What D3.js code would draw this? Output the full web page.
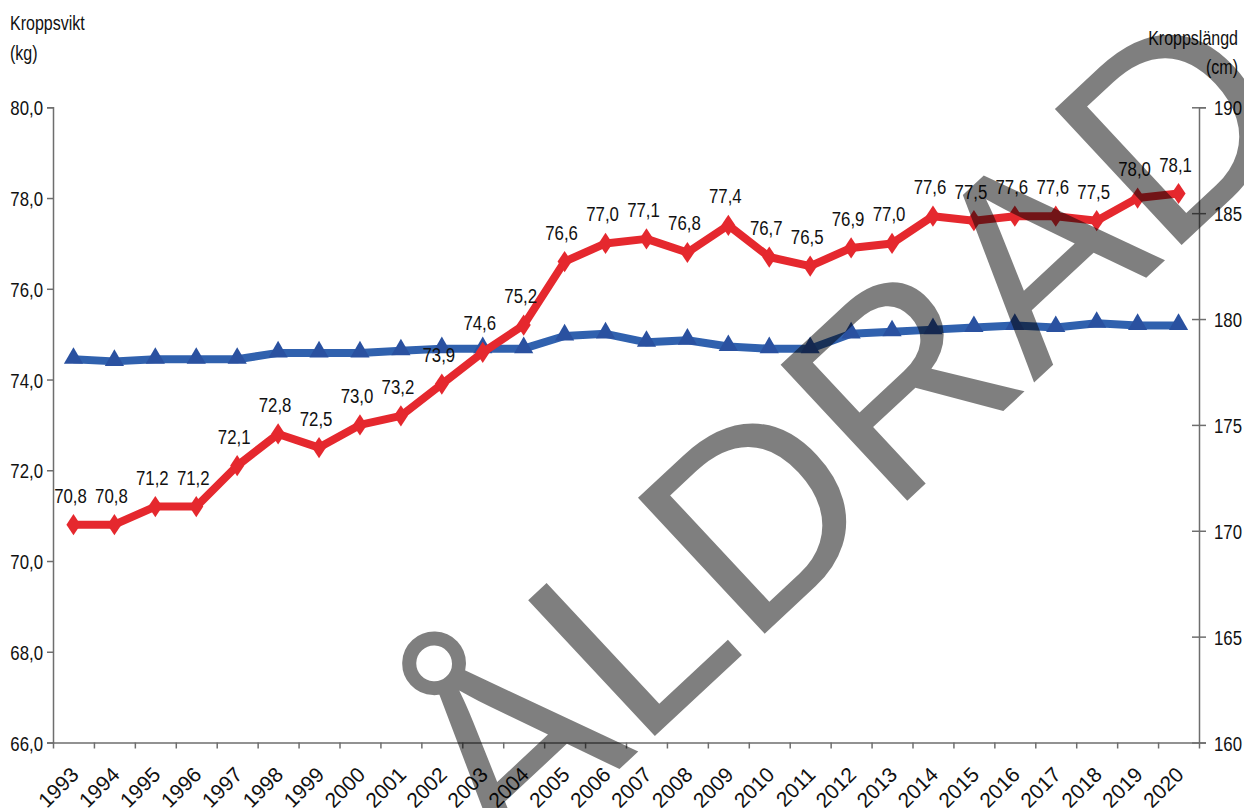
<!DOCTYPE html>
<html>
<head>
<meta charset="utf-8">
<script src="https://cdn.jsdelivr.net/npm/d3@7"></script>
<style>
  html, body { margin: 0; padding: 0; background: #fff; }
  svg { display: block; }
</style>
</head>
<body>
<svg id="chart" width="1244" height="808"></svg>
<script>
// ---- data ----
const years = ["1993","1994","1995","1996","1997","1998","1999","2000","2001","2002","2003","2004","2005","2006","2007","2008","2009","2010","2011","2012","2013","2014","2015","2016","2017","2018","2019","2020"];
const weightKg = [70.8,70.8,71.2,71.2,72.1,72.8,72.5,73.0,73.2,73.9,74.6,75.2,76.6,77.0,77.1,76.8,77.4,76.7,76.5,76.9,77.0,77.6,77.5,77.6,77.6,77.5,78.0,78.1];
const heightCm = [178.1,178.0,178.1,178.1,178.1,178.4,178.4,178.4,178.5,178.6,178.6,178.6,179.2,179.3,178.9,179.0,178.7,178.6,178.6,179.3,179.4,179.5,179.6,179.7,179.6,179.8,179.7,179.7];
const leftTicks = [66,68,70,72,74,76,78,80];
const rightTicks = [160,165,170,175,180,185,190];
const leftTitle = ["Kroppsvikt", "(kg)"];
const rightTitle = ["Kroppslängd", "(cm)"];
const watermark = "ÅLDRAD";

// ---- layout ----
const svg = d3.select("#chart");
const X0 = 53, X1 = 1199, YT = 107.3, YB = 742.5;
const axisColor = "#6e6e6e";
const red = "#e5282e", blue = "#3061ae", blueMark = "#2a51a0";
const FONT = "Liberation Sans, Arial, sans-serif";
const SQ = 0.8; // horizontal squeeze to mimic a condensed face

const x = d3.scaleBand().domain(years).range([X0, X1]).padding(0);
const yL = d3.scaleLinear().domain([66, 80]).range([YB, YT]);
const yR = d3.scaleLinear().domain([160, 190]).range([YB, YT]);
const fmt = v => d3.format(".1f")(v).replace(".", ",");
const cx = (d, i) => x(years[i]) + x.bandwidth() / 2;

// left axis
const gL = svg.append("g").attr("transform", `translate(${X0},0)`)
  .call(d3.axisLeft(yL).tickValues(leftTicks).tickFormat(fmt).tickSize(6));
gL.select(".domain").attr("stroke", axisColor).attr("stroke-width", 1.5);
gL.selectAll(".tick line").attr("stroke", axisColor).attr("stroke-width", 1.5);
gL.selectAll(".tick text").attr("x", null).attr("dy", null)
  .attr("transform", "translate(-10,7.5) scale(" + SQ + ",1)")
  .attr("font-family", FONT).attr("font-size", 21).attr("fill", "#111").attr("text-anchor", "end");

// right axis
const gR = svg.append("g").attr("transform", `translate(${X1},0)`)
  .call(d3.axisRight(yR).tickValues(rightTicks).tickFormat(d3.format("d")).tickSize(7));
gR.select(".domain").attr("stroke", axisColor).attr("stroke-width", 1.5);
gR.selectAll(".tick line").attr("x1", -7).attr("stroke", axisColor).attr("stroke-width", 1.5);
gR.selectAll(".tick text").attr("x", null).attr("dy", null)
  .attr("transform", "translate(15,7.5) scale(" + SQ + ",1)")
  .attr("font-family", FONT).attr("font-size", 21).attr("fill", "#111").attr("text-anchor", "start");

// bottom axis (ticks at band edges)
const edgeScale = d3.scaleLinear().domain([0, years.length]).range([X0, X1]);
const gB = svg.append("g").attr("transform", `translate(0,${YB})`)
  .call(d3.axisBottom(edgeScale).tickValues(d3.range(0, years.length + 1)).tickFormat("").tickSize(6).tickSizeOuter(0));
gB.select(".domain").attr("stroke", axisColor).attr("stroke-width", 1.5);
gB.selectAll(".tick line").attr("stroke", axisColor).attr("stroke-width", 1.5);

// x labels
svg.append("g").selectAll("text").data(years).join("text")
  .attr("transform", d => `translate(${x(d) + x.bandwidth() / 2 + 6.5},776) rotate(-45)`)
  .attr("text-anchor", "end")
  .attr("font-family", FONT)
  .attr("font-size", 21)
  .attr("fill", "#111")
  .text(d => d);

// titles
svg.append("g").selectAll("text").data(leftTitle).join("text")
  .attr("transform", (d, i) => `translate(10,${30 + i * 30}) scale(${SQ},1)`)
  .attr("font-family", FONT).attr("font-size", 20).attr("fill", "#111")
  .text(d => d);
svg.append("g").selectAll("text").data(rightTitle).join("text")
  .attr("transform", (d, i) => `translate(1238,${45 + i * 29}) scale(${SQ},1)`)
  .attr("text-anchor", "end")
  .attr("font-family", FONT).attr("font-size", 20).attr("fill", "#111")
  .text(d => d);

// blue series
const lineB = d3.line().x((d, i) => cx(d, i)).y(d => yR(d));
svg.append("path").datum(heightCm).attr("d", lineB)
  .attr("fill", "none").attr("stroke", blue).attr("stroke-width", 8).attr("stroke-linejoin", "round");
svg.append("g").selectAll("path").data(heightCm).join("path")
  .attr("d", d3.symbol(d3.symbolTriangle, 160))
  .attr("transform", (d, i) => `translate(${cx(d, i)},${yR(d) - 1})`)
  .attr("fill", blueMark);

// red series
const lineR = d3.line().x((d, i) => cx(d, i)).y(d => yL(d));
svg.append("path").datum(weightKg).attr("d", lineR)
  .attr("fill", "none").attr("stroke", red).attr("stroke-width", 8).attr("stroke-linejoin", "round");
svg.append("g").selectAll("path").data(weightKg).join("path")
  .attr("d", d3.symbol(d3.symbolDiamond, 130))
  .attr("transform", (d, i) => `translate(${cx(d, i)},${yL(d)}) scale(1.15,1)`)
  .attr("fill", red);
svg.append("g").selectAll("text").data(weightKg).join("text")
  .attr("transform", (d, i) => `translate(${cx(d, i) - 3},${yL(d) - 22}) scale(${SQ},1)`)
  .attr("text-anchor", "middle")
  .attr("font-family", FONT)
  .attr("font-size", 21)
  .attr("fill", "#111")
  .text(d => fmt(d));

// watermark
svg.append("text")
  .attr("transform", "translate(1308,127) rotate(-43)")
  .attr("text-anchor", "end")
  .attr("font-family", FONT)
  .attr("font-size", 270)
  .attr("fill", "#000")
  .attr("fill-opacity", 0.5)
  .text(watermark);
</script>
</body>
</html>
